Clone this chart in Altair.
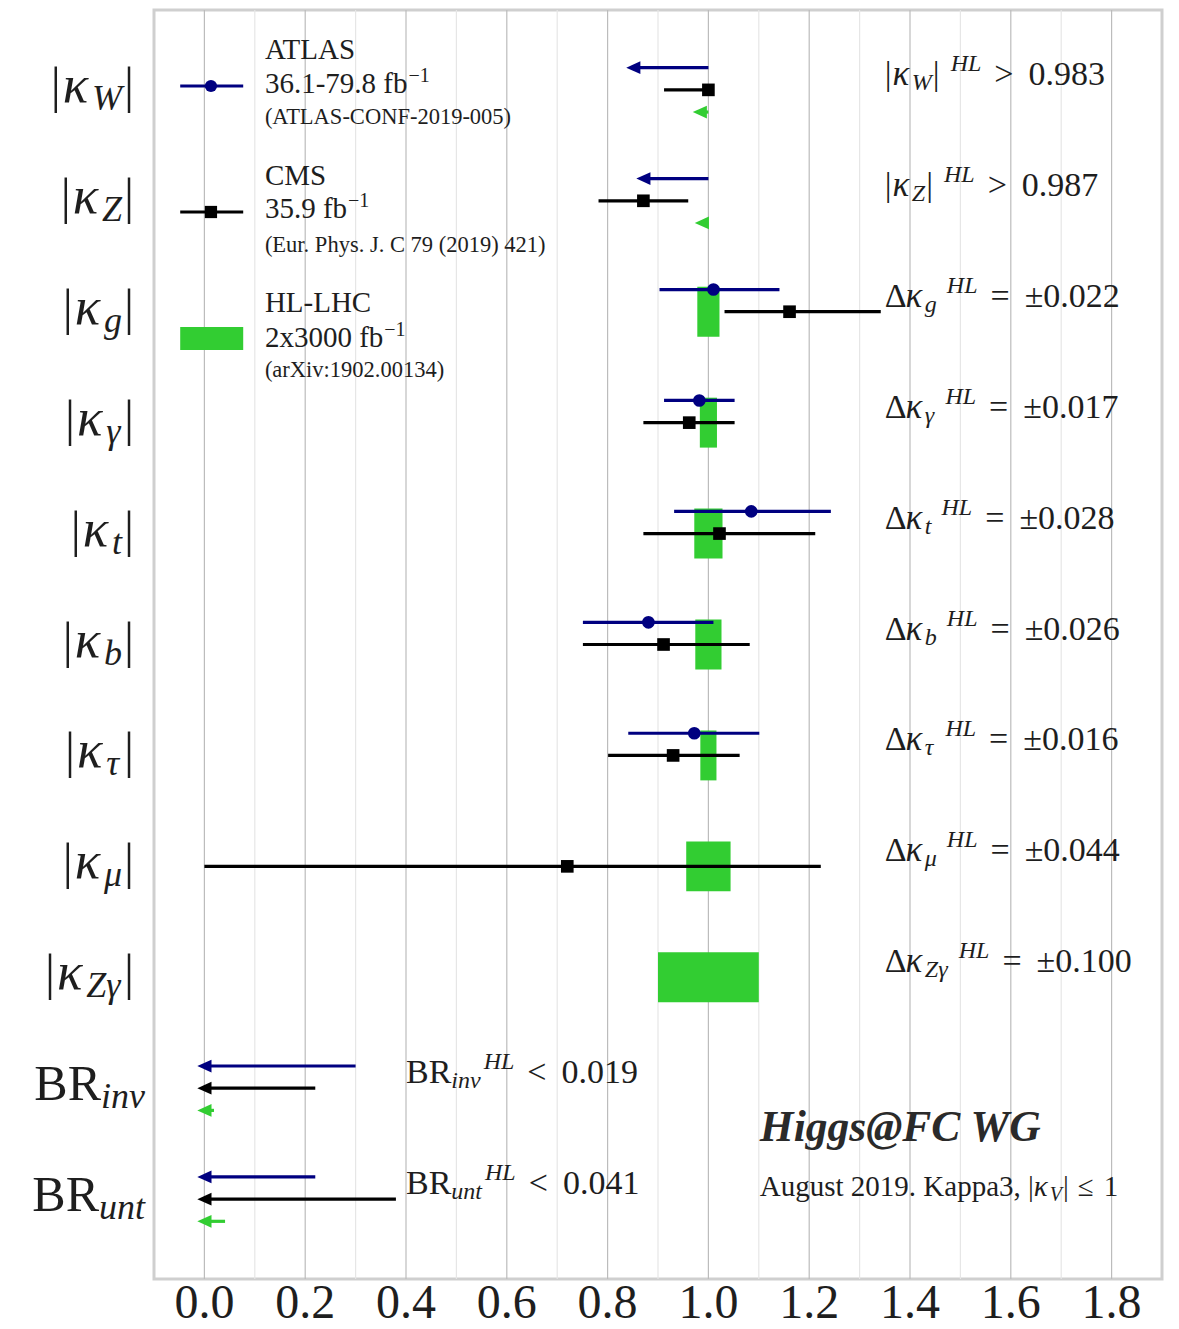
import altair as alt
import pandas as pd

# ---------------- data ----------------
# rows (top to bottom): |kW| |kZ| |kg| |kgamma| |kt| |kb| |ktau| |kmu| |kZgamma| BRinv BRunt
row_subs = ["W", "Z", "g", "γ", "t", "b", "τ", "μ", "Zγ", "inv", "unt"]
hl_values = ["> 0.983", "> 0.987", "= ±0.022", "= ±0.017", "= ±0.028",
             "= ±0.026", "= ±0.016", "= ±0.044", "= ±0.100", "< 0.019", "< 0.041"]

# ATLAS 36.1-79.8 fb-1 (central, low, high)
atlas_rows = [2, 3, 4, 5, 6]
atlas_central = [1.010, 0.982, 1.085, 0.881, 0.972]
atlas_low = [0.903, 0.912, 0.932, 0.751, 0.841]
atlas_high = [1.141, 1.052, 1.243, 1.010, 1.101]

# CMS 35.9 fb-1
cms_rows = [0, 1, 2, 3, 4, 5, 6, 7]
cms_central = [1.000, 0.871, 1.161, 0.962, 1.022, 0.911, 0.930, 0.720]
cms_low = [0.912, 0.782, 1.032, 0.871, 0.871, 0.751, 0.801, 0.000]
cms_high = [1.000, 0.960, 1.342, 1.052, 1.212, 1.082, 1.062, 1.223]

# HL-LHC symmetric uncertainties around 1
hl_rows = [2, 3, 4, 5, 6, 7, 8]
hl_err = [0.022, 0.017, 0.028, 0.026, 0.016, 0.044, 0.100]

# limit arrows (start of arrow, limit value where the head sits)
atlas_lim_rows = [0, 1, 9, 10]
atlas_lim_start = [1.0, 1.0, 0.30, 0.22]
atlas_lim_end = [0.851, 0.871, 0.0, 0.0]
cms_lim_rows = [9, 10]
cms_lim_start = [0.22, 0.38]
cms_lim_end = [0.0, 0.0]
hl_lim_rows = [0, 1, 9, 10]
hl_lim_start = [1.0, 1.0, 0.019, 0.041]
hl_lim_end = [0.983, 0.987, 0.0, 0.0]

tick_values = [0.0, 0.2, 0.4, 0.6, 0.8, 1.0, 1.2, 1.4, 1.6, 1.8]
minor_values = [0.1, 0.3, 0.5, 0.7, 0.9, 1.1, 1.3, 1.5, 1.7]

# ---------------- layout ----------------
W, H = 1008, 1269
XDOM = [-0.1, 1.9]
YDOM = [-0.72, 10.72]
PXU = W / (XDOM[1] - XDOM[0])
PXR = H / (YDOM[1] - YDOM[0])
OFF = 0.2          # row offset for ATLAS (above) / HL (below)
BARH = 0.225       # half height of HL bars

XS = alt.Scale(domain=XDOM, nice=False, zero=False)
YS = alt.Scale(domain=YDOM, reverse=True, nice=False, zero=False)

NAVY = "#000080"
BLACK = "#000000"
GREEN = "#32cd32"
TXT = "#1e1e1e"
FONT = "Liberation Serif"
ARROW = "M-1,0L1,-0.9L1,0.9Z"


def ypx(p):
    return YDOM[0] + (p - 10) / PXR


def X(f):
    return alt.X(f"{f}:Q", scale=XS, axis=None)


def Y(f):
    return alt.Y(f"{f}:Q", scale=YS, axis=None)


atlas_df = pd.DataFrame({"y": [r - OFF for r in atlas_rows], "c": atlas_central,
                         "lo": atlas_low, "hi": atlas_high})
cms_df = pd.DataFrame({"y": cms_rows, "c": cms_central, "lo": cms_low, "hi": cms_high})
hl_df = pd.DataFrame({"y1": [r - BARH for r in hl_rows], "y2": [r + BARH for r in hl_rows],
                      "lo": [1 - e for e in hl_err], "hi": [1 + e for e in hl_err]})
atl_lim = pd.DataFrame({"y": [r - OFF for r in atlas_lim_rows], "s": atlas_lim_start, "e": atlas_lim_end})
cms_lim = pd.DataFrame({"y": cms_lim_rows, "s": cms_lim_start, "e": cms_lim_end})
hl_lim = pd.DataFrame({"y": [r + OFF for r in hl_lim_rows], "s": hl_lim_start, "e": hl_lim_end})

grid_major = alt.Chart(pd.DataFrame({"v": tick_values})).mark_rule(
    color="#bcbcbc", strokeWidth=1.2).encode(x=X("v"))
grid_minor = alt.Chart(pd.DataFrame({"v": minor_values})).mark_rule(
    color="#e6e6e6", strokeWidth=1.2).encode(x=X("v"))

# x tick labels (drawn through the x scale)
tick_df = pd.DataFrame({"v": tick_values, "y": [ypx(1318)] * len(tick_values)})
tick_labels = alt.Chart(tick_df).mark_text(
    align="center", baseline="alphabetic", font=FONT, fontSize=48, color=TXT
).encode(x=X("v"), y=Y("y"), text=alt.Text("v:Q", format=".1f"))

hl_bars = alt.Chart(hl_df).mark_rect(color=GREEN).encode(x=X("lo"), x2="hi", y=Y("y1"), y2="y2")


def arrows(df, color):
    r = alt.Chart(df).mark_rule(color=color, strokeWidth=3.2).encode(x=X("s"), x2="e", y=Y("y"))
    h = alt.Chart(df).mark_point(shape=ARROW, filled=True, opacity=1, color=color,
                                 size=200, strokeWidth=0).encode(x=X("e"), y=Y("y"))
    return [r, h]


def errbars(df, color):
    return alt.Chart(df).mark_rule(color=color, strokeWidth=3.2).encode(x=X("lo"), x2="hi", y=Y("y"))


atlas_pts = alt.Chart(atlas_df).mark_point(shape="circle", filled=True, opacity=1, color=NAVY,
                                           size=160, strokeWidth=0).encode(x=X("c"), y=Y("y"))
cms_pts = alt.Chart(cms_df).mark_point(shape="square", filled=True, opacity=1, color=BLACK,
                                       size=160, strokeWidth=0).encode(x=X("c"), y=Y("y"))

# legend symbols
leg_x0, leg_x1, leg_xc = -0.048, 0.077, 0.013
leg_lines = pd.DataFrame({"a": [leg_x0, leg_x0], "b": [leg_x1, leg_x1], "y": [ypx(86), ypx(212)],
                          "c": [leg_xc, leg_xc], "who": ["ATLAS", "CMS"]})
leg_rule = alt.Chart(leg_lines).mark_rule(strokeWidth=3.2).encode(
    x=X("a"), x2="b", y=Y("y"),
    color=alt.Color("who:N", scale=alt.Scale(domain=["ATLAS", "CMS"], range=[NAVY, BLACK]), legend=None))
leg_dot = alt.Chart(leg_lines.iloc[[0]]).mark_point(shape="circle", filled=True, opacity=1, color=NAVY,
                                                    size=150, strokeWidth=0).encode(x=X("c"), y=Y("y"))
leg_sq = alt.Chart(leg_lines.iloc[[1]]).mark_point(shape="square", filled=True, opacity=1, color=BLACK,
                                                   size=150, strokeWidth=0).encode(x=X("c"), y=Y("y"))
leg_rect = alt.Chart(pd.DataFrame({"a": [leg_x0], "b": [leg_x1], "y1": [ypx(327)], "y2": [ypx(350)]})
                     ).mark_rect(color=GREEN).encode(x=X("a"), x2="b", y=Y("y1"), y2="y2")

# ---------------- text composition ----------------
REG = {' ': 0.25, '|': 0.2, 'B': 0.667, 'R': 0.667, '.': 0.25, ',': 0.25, '>': 0.564, '<': 0.564,
       '=': 0.564, '±': 0.549, 'Δ': 0.612, '≤': 0.549, '-': 0.333, '−': 0.564, '(': 0.333, ')': 0.333,
       ':': 0.278, 'κ': 0.55, 'A': 0.722, 'T': 0.611, 'L': 0.611, 'S': 0.556, 'C': 0.667, 'O': 0.722,
       'N': 0.722, 'F': 0.556, 'M': 0.889, 'H': 0.722, 'E': 0.611, 'P': 0.556, 'J': 0.389, 'K': 0.722,
       'X': 0.722, 'a': 0.444, 'b': 0.5, 'f': 0.333, 'g': 0.5, 'h': 0.5, 'i': 0.278, 'r': 0.333,
       's': 0.389, 't': 0.278, 'u': 0.5, 'v': 0.5, 'x': 0.5, 'y': 0.5, 'p': 0.5, 'n': 0.5}
ITA = {'W': 0.833, 'Z': 0.556, 'g': 0.5, 'γ': 0.44, 't': 0.278, 'b': 0.5, 'τ': 0.44, 'μ': 0.5,
       'i': 0.278, 'n': 0.5, 'v': 0.444, 'u': 0.5, 'H': 0.722, 'L': 0.556, 'V': 0.611, 'κ': 0.55}

STYLES = {
    "r34": (34, "normal", "normal"), "i34": (35, "italic", "normal"),
    "sub24": (24, "italic", "normal"), "sup24": (24, "italic", "normal"),
    "r50": (50, "normal", "normal"), "i50": (53, "italic", "normal"), "sub36": (36, "italic", "normal"),
    "r29": (29, "normal", "normal"), "r21": (22.5, "normal", "normal"), "sup20": (20, "normal", "normal"),
    "bi42": (43.5, "italic", "bold"), "r28": (29, "normal", "normal"), "i28": (29, "italic", "normal"),
    "sub20": (20, "italic", "normal"),
}


def tw(text, st):
    size, style, _ = STYLES[st]
    tab = ITA if style == "italic" else REG
    return sum(tab.get(c, REG.get(c, 0.5)) for c in text) * size


segs = []


def add_run(x0, y0, parts, align="left"):
    clean = []
    for s, t, g, d in parts:
        n = len(t) - len(t.lstrip(" "))
        clean.append((s, t.lstrip(" "), g + tw(" " * n, s), d))
    total = sum(g + tw(t, s) for s, t, g, d in clean)
    cur = 0.0 if align == "left" else -total
    for s, t, g, d in clean:
        cur += g
        segs.append({"style": s, "text": t, "x": x0 + cur / PXU, "y": y0 + d / PXR})
        cur += tw(t, s)


for r in range(11):
    sub = row_subs[r]
    rel, num = hl_values[r].split(" ", 1)
    tail = [("r34", rel, 13, -5), ("r34", num, 15, -5)]
    # left labels
    if r < 9:
        add_run(XDOM[0] - 20 / PXU, r, [("r50", "|", 0, 12), ("i50", "κ", 2, 12),
                                         ("sub36", sub, 0, 20), ("r50", "|", 2, 12)], align="right")
    else:
        add_run(XDOM[0] - 9 / PXU, r, [("r50", "BR", 0, 12), ("sub36", sub, 0, 20)], align="right")
    # right labels (HL projections)
    if r < 2:
        add_run(1.35, r, [("r34", "|", 0, -5), ("i34", "κ", 1, -5), ("sub24", sub, 0, 0),
                          ("r34", "|", 1, -5), ("sup24", "HL", 11, -19)] + tail)
    elif r < 9:
        add_run(1.35, r, [("r34", "Δ", 0, -5), ("i34", "κ", 0, -5), ("sub24", sub, 0, 0),
                          ("sup24", "HL", 10, -19)] + tail)
    else:
        add_run(0.40, r, [("r34", "BR", 0, -5), ("sub24", sub, 0, 0),
                          ("sup24", "HL", 3, -19)] + tail)

# legend text
LX = 0.12
add_run(LX, ypx(59), [("r29", "ATLAS", 0, 0)])
add_run(LX, ypx(93), [("r29", "36.1-79.8 fb", 0, 0), ("sup20", "−1", 1, -11)])
add_run(LX, ypx(124), [("r21", "(ATLAS-CONF-2019-005)", 0, 0)])
add_run(LX, ypx(185), [("r29", "CMS", 0, 0)])
add_run(LX, ypx(218), [("r29", "35.9 fb", 0, 0), ("sup20", "−1", 1, -11)])
add_run(LX, ypx(252), [("r21", "(Eur. Phys. J. C 79 (2019) 421)", 0, 0)])
add_run(LX, ypx(312), [("r29", "HL-LHC", 0, 0)])
add_run(LX, ypx(347), [("r29", "2x3000 fb", 0, 0), ("sup20", "−1", 1, -11)])
add_run(LX, ypx(377), [("r21", "(arXiv:1902.00134)", 0, 0)])

# working group tag
add_run(1.102, ypx(1141), [("bi42", "Higgs@FC WG", 0, 0)])
add_run(1.102, ypx(1196), [("r28", "August 2019. Kappa3, |", 0, 0), ("i28", "κ", 0, 0),
                           ("sub20", "V", 0, 5), ("r28", "|", 1, 0), ("r28", "≤", 9, 0),
                           ("r28", "1", 10, 0)])

seg_df = pd.DataFrame(segs)
text_layers = []
for st, (size, fstyle, fweight) in STYLES.items():
    d = seg_df[seg_df["style"] == st]
    if d.empty:
        continue
    text_layers.append(
        alt.Chart(d).mark_text(align="left", baseline="alphabetic", font=FONT, fontSize=size,
                               fontStyle=fstyle, fontWeight=fweight,
                               color="#2a2a2a" if st == "bi42" else TXT)
        .encode(x=X("x"), y=Y("y"), text="text:N"))

layers = [grid_minor, grid_major, tick_labels, hl_bars]
layers += arrows(hl_lim, GREEN)
layers += [errbars(cms_df, BLACK)] + arrows(cms_lim, BLACK)
layers += [errbars(atlas_df, NAVY)] + arrows(atl_lim, NAVY)
layers += [cms_pts, atlas_pts, leg_rule, leg_dot, leg_sq, leg_rect]
layers += text_layers

chart = alt.layer(*layers).properties(
    width=W, height=H,
    padding={"left": 154, "top": 10, "right": 17, "bottom": 50},
    autosize=alt.AutoSizeParams(type="none"),
    background="white",
).configure_view(stroke="#cfcfcf", strokeWidth=3)

chart.save("out.html", embed_options={"renderer": "svg", "actions": False})
